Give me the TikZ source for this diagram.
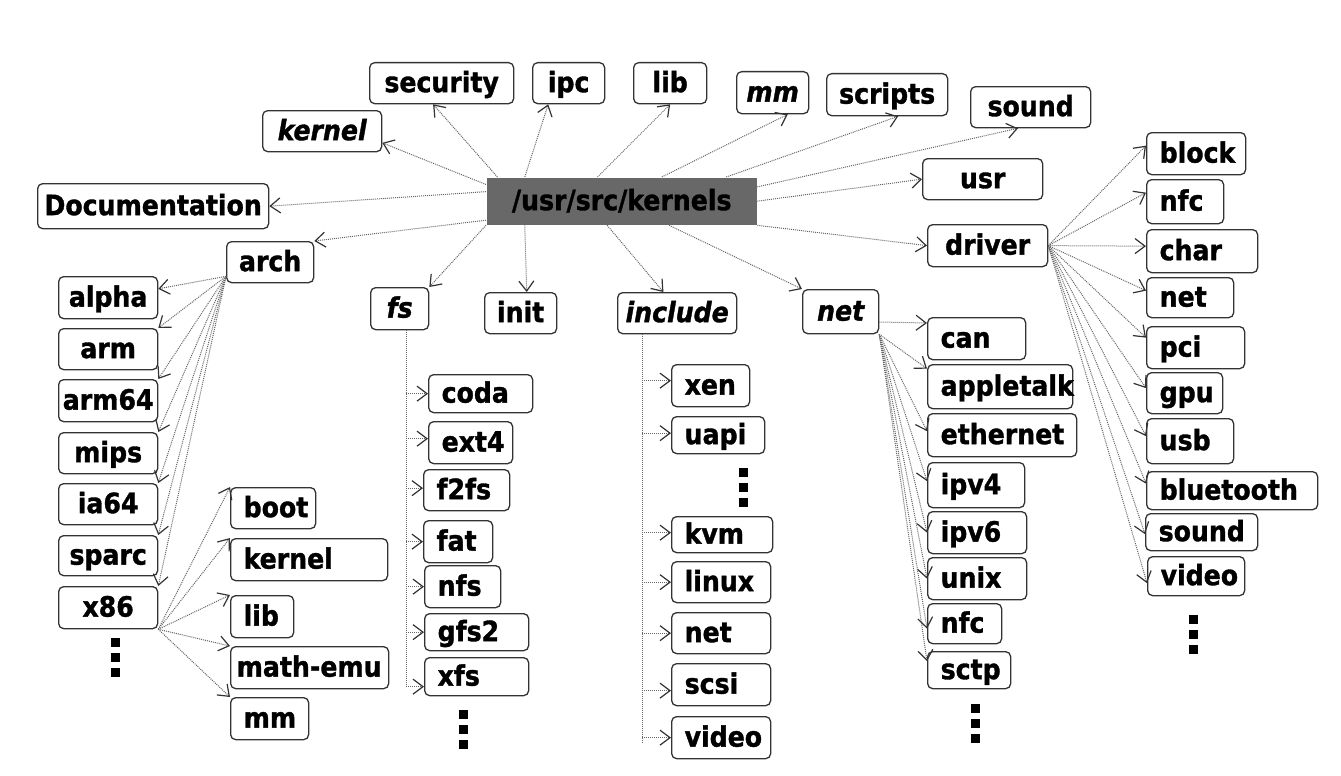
\documentclass[tikz,border=0pt]{standalone}
\usepackage{fontspec}
\setmainfont{DejaVu Sans Condensed}[BoldFont={DejaVu Sans Condensed Bold},BoldItalicFont={DejaVu Sans Condensed Bold Oblique},BoldFeatures={FakeBold=1.2},BoldItalicFeatures={FakeBold=1.2}]
\usetikzlibrary{arrows.meta}
\definecolor{rootgray}{RGB}{104,104,104}
\newcommand{\dirfont}{\fontsize{28}{32}\selectfont\bfseries}

\begin{document}
\begin{tikzpicture}[x=1pt,y=-1pt,
 box/.style={draw=black!80, line width=1.3pt, rounded corners=5pt, anchor=north west, font=\dirfont, text height=24pt, text depth=6pt, inner ysep=3pt, minimum height=41pt},
 dir/.style={box, minimum width=#1},
 leaf/.style={box, align=left, inner xsep=13pt, text width=#1pt},
 trunk/.style={draw=black!60, line width=1pt, dash pattern=on 1pt off 1pt},
 link/.style={trunk, -{Straight Barb[length=10pt,width=15pt,line width=1.2pt,color=black!80]}}]

\useasboundingbox (0,0) rectangle (1341,776);

 \node[box, draw=none, fill=rootgray, rounded corners=0pt, minimum width=270, minimum height=47] (root) at (486,177) {/usr/src/kernels};

% top level directories
 \node[dir=144] (security) at (369,62) {security};
 \node[dir=72] (ipc) at (532,62) {ipc};
 \node[dir=73] (lib) at (633,62) {lib};
 \node[dir=72, minimum height=42] (mm) at (736,71) {\itshape mm};
 \node[dir=121, minimum height=42] (scripts) at (826,73) {scripts};
 \node[dir=120] (sound) at (970,86) {sound};
 \node[dir=119] (kernel) at (262,110) {\itshape kernel};
 \node[dir=231, minimum height=45] (doc) at (37,183) {Documentation};
 \node[dir=120] (usr) at (922,158) {usr};
 \node[dir=120, minimum height=42] (driver) at (927,224) {driver};
 \node[dir=87] (arch) at (226,241) {arch};
 \node[dir=58, minimum height=42] (fs) at (370,287) {\itshape fs};
 \node[dir=72] (init) at (484,292) {init};
 \node[dir=119] (include) at (617,292) {\itshape include};
 \node[dir=76, minimum height=44] (net) at (802,289) {\itshape net};

 \draw[link] (root.169) -- (security.248);
 \draw[link] (root.166) -- (ipc.226);
 \draw[link] (root.135) -- (lib.south);
 \draw[link] (root.31) -- (mm.305);
 \draw[link] (root.13) -- (scripts.297);
 \draw[link] (root.6) -- (sound.239);
 \draw[link] (root.east) -- (usr.west);
 \draw[link] (root.south east) -- (driver.west);
 \draw[link] (root.173) -- (kernel.349);
 \draw[link] (root.176) -- (doc.east);
 \draw[link] (root.188) -- (arch.north east);
 \draw[link] (root.south west) -- (fs.north east);
 \draw[link] (root.194) -- (init.74);
 \draw[link] (root.239) -- (include.123);
 \draw[link] (root.333) -- (net.north west);

% arch
 \node[dir=99, minimum height=42] (alpha) at (58,276) {alpha};
 \node[dir=99] (arm) at (58,328) {arm};
 \node[dir=99, minimum height=42] (arm64) at (58,379) {arm64};
 \node[dir=99] (mips) at (58,432) {mips};
 \node[dir=99] (ia64) at (58,483) {ia64};
 \node[dir=99, minimum height=40] (sparc) at (58,535) {sparc};
 \node[dir=99, minimum height=42] (x86) at (58,586) {x86};

 \draw[link] ([yshift=7pt]arch.south west) -- (alpha.10);
 \foreach \c in {arm, arm64, mips, ia64, sparc, x86}
  \draw[link] ([yshift=7pt]arch.south west) -- (\c.north east);

 \node[leaf=59] (xboot) at (230,487) {boot};
 \node[leaf=131, minimum height=42] (xkernel) at (230,538) {kernel};
 \node[leaf=37, minimum height=42] (xlib) at (230,595) {lib};
 \node[leaf=146, inner xsep=6pt, minimum height=42] (xmathemu) at (230,646) {math-emu};
 \node[leaf=52, minimum height=42] (xmm) at (230,697) {mm};

 \foreach \c in {xboot, xkernel, xlib, xmathemu, xmm}
  \draw[link] (x86.south east) -- (\c.north west);

% fs
 \node[leaf=78, minimum height=38] (coda) at (428,374) {coda};
 \node[leaf=58, minimum height=42] (ext4) at (428,421) {ext4};
 \node[leaf=60] (f2fs) at (423,469) {f2fs};
 \node[leaf=43, minimum height=42] (fat) at (423,520) {fat};
 \node[leaf=50, minimum height=42] (nfs) at (424,565) {nfs};
 \node[leaf=78, minimum height=37] (gfs2) at (424,613) {gfs2};
 \node[leaf=78, minimum height=38] (xfs) at (424,657) {xfs};

 \coordinate (fsleg) at (406,688);
 \draw[trunk] (fsleg |- fs.south) -- (fsleg);
 \foreach \c/\s in {coda/0pt, ext4/4pt, f2fs/2pt, fat/0pt, nfs/0pt, gfs2/0pt, xfs/-10pt}{
  \path ([yshift=\s]\c.west) coordinate (tip);
  \draw[link] (fsleg |- tip) -- (tip);
 }

% include
 \node[leaf=52, minimum height=42] (ixen) at (671,364) {xen};
 \node[leaf=67, minimum height=37] (iuapi) at (671,416) {uapi};
 \node[leaf=75, minimum height=36] (ikvm) at (671,516) {kvm};
 \node[leaf=73] (ilinux) at (671,561) {linux};
 \node[leaf=73] (inet) at (671,612) {net};
 \node[leaf=73, minimum height=42] (iscsi) at (671,663) {scsi};
 \node[leaf=73, minimum height=42] (ivideo) at (671,716) {video};

 \coordinate (incleg) at (642,743);
 \draw[trunk] (incleg |- include.south) -- (incleg);
 \foreach \c/\s in {ixen/5pt, iuapi/2pt, ikvm/2pt, ilinux/0pt, inet/0pt, iscsi/-6pt, ivideo/0pt}{
  \path ([yshift=\s]\c.west) coordinate (tip);
  \draw[link] (incleg |- tip) -- (tip);
 }

% net
 \node[leaf=72, minimum height=42] (ncan) at (927,317) {can};
 \node[leaf=119, minimum height=44] (nappletalk) at (927,364) {appletalk};
 \node[leaf=123, minimum height=43] (nethernet) at (927,413) {ethernet};
 \node[leaf=71, minimum height=45] (nipv4) at (927,462) {ipv4};
 \node[leaf=73, minimum height=42] (nipv6) at (927,511) {ipv6};
 \node[leaf=73, minimum height=42] (nunix) at (927,557) {unix};
 \node[leaf=48, minimum height=40] (nnfc) at (927,603) {nfc};
 \node[leaf=57, minimum height=37] (nsctp) at (927,651) {sctp};

 \draw[link] (net.345) -- ([yshift=-6pt]ncan.north west);
 \foreach \c/\s in {nappletalk/18pt, nethernet/4pt, nipv4/4pt, nipv6/0pt, nunix/0pt, nnfc/-5pt, nsctp/9pt}
  \draw[link] (net.south east) -- ([yshift=\s]\c.west);

% driver
 \node[leaf=73, minimum height=42] (dblock) at (1146,132) {block};
 \node[leaf=51, minimum height=44] (dnfc) at (1146,179) {nfc};
 \node[leaf=85, minimum height=43] (dchar) at (1146,229) {char};
 \node[leaf=61, minimum height=40] (dnet) at (1146,277) {net};
 \node[leaf=72, minimum height=42] (dpci) at (1146,326) {pci};
 \node[leaf=50] (dgpu) at (1146,372) {gpu};
 \node[leaf=61, minimum height=45] (dusb) at (1146,418) {usb};
 \node[leaf=145, minimum height=38] (dbluetooth) at (1146,471) {bluetooth};
 \node[leaf=86, minimum height=37] (dsound) at (1145,513) {sound};
 \node[leaf=71, minimum height=39] (dvideo) at (1147,556) {video};

 \foreach \c/\s in {dblock/8pt, dnfc/9pt, dchar/5pt, dnet/7pt, dpci/10pt, dgpu/5pt, dusb/5pt, dbluetooth/7pt, dsound/-2pt, dvideo/-7pt}
  \draw[link] (driver.east) -- ([yshift=\s]\c.west);

% vertical dots
 \foreach \x/\y in {115/642, 463/714, 743/472, 975/708, 1193/619}
  \foreach \k in {0,1,2}
   \fill (\x-4.5,\y+\k*15-4.5) rectangle ++(9,9);

\end{tikzpicture}
\end{document}
